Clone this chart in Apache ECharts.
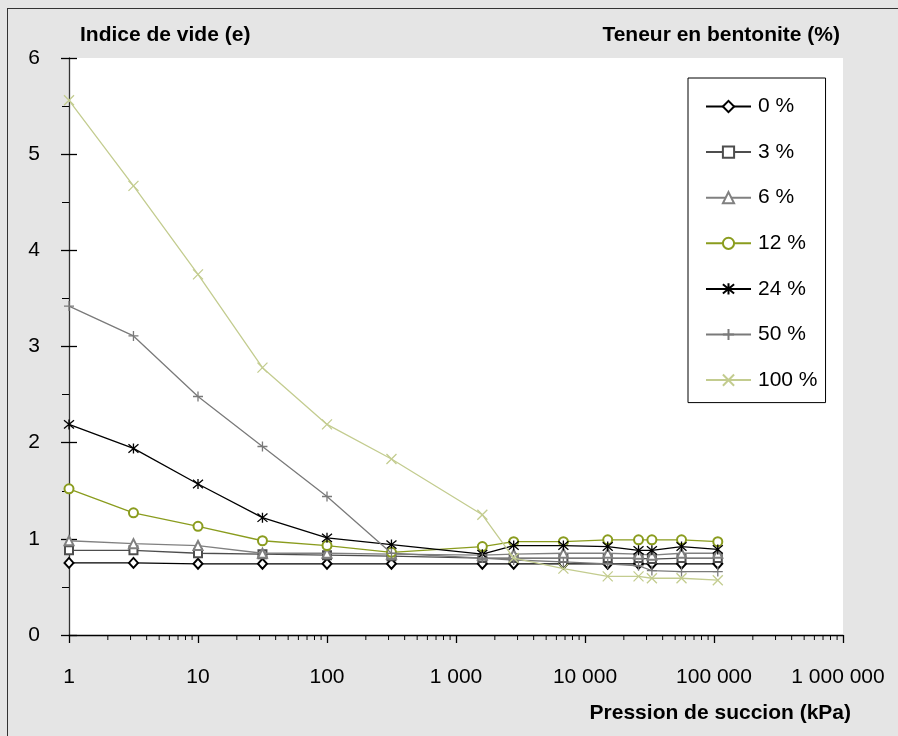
<!DOCTYPE html>
<html>
<head>
<meta charset="utf-8">
<script src="https://cdn.jsdelivr.net/npm/echarts@6.0.0/dist/echarts.min.js"></script>
<style>
  html, body { margin: 0; padding: 0; overflow: hidden; background: #e5e5e5; }
  #frame { position: absolute; left: 7px; top: 8px; width: 1000px; height: 1000px; border: 1px solid #333; }
  #main { position: absolute; left: 0; top: 0; width: 898px; height: 736px; }
</style>
</head>
<body>
<div id="frame"></div>
<div id="main"></div>
<script>
// pression de succion (kPa)
let pressure = [1, 3.16, 10, 31.6, 100, 316, 1600, 2800, 6800, 15000, 26000, 33000, 56000, 107000];
// indice de vide par teneur en bentonite
let e0 = [0.75, 0.75, 0.74, 0.74, 0.74, 0.74, 0.74, 0.74, 0.74, 0.74, 0.74, 0.74, 0.74, 0.74];
let e3 = [0.88, 0.88, 0.85, 0.84, 0.83, 0.82, 0.80, 0.80, 0.80, 0.80, 0.80, 0.79, 0.80, 0.80];
let e6 = [0.98, 0.95, 0.93, 0.85, 0.85, 0.84, 0.83, 0.84, 0.85, 0.85, 0.84, 0.83, 0.85, 0.85];
let e12 = [1.52, 1.27, 1.13, 0.98, 0.93, 0.86, 0.92, 0.97, 0.97, 0.99, 0.99, 0.99, 0.99, 0.97];
let e24 = [2.19, 1.94, 1.57, 1.22, 1.01, 0.94, 0.84, 0.93, 0.93, 0.92, 0.88, 0.88, 0.92, 0.89];
let e50 = [3.42, 3.11, 2.48, 1.96, 1.44, 0.85, 0.80, 0.78, 0.76, 0.74, 0.72, 0.67, 0.66, 0.66];
let e100 = [5.56, 4.67, 3.75, 2.78, 2.19, 1.83, 1.25, 0.80, 0.69, 0.61, 0.61, 0.59, 0.59, 0.57];

let seriesNames = ['0 %', '3 %', '6 %', '12 %', '24 %', '50 %', '100 %'];
let seriesValues = [e0, e3, e6, e12, e24, e50, e100];
let yTicks = [0, 1, 2, 3, 4, 5, 6];

// petites graduations du log (2..9 par décade)
let minorTicks = [];
[1, 10, 100, 1000, 10000, 100000].forEach(function (d) {
    for (let k = 2; k <= 9; k++) minorTicks.push(k * d);
});

let colors = ['#000000', '#4d4d4d', '#808080', '#8a9c1e', '#000000', '#7a7a7a', '#c3cc8f'];
let symbols = [
    'emptyDiamond',
    'emptyRect',
    'emptyTriangle',
    'emptyCircle',
    'path://M5 0 L5 10 M0.8 0.8 L9.2 9.2 M9.2 0.8 L0.8 9.2',
    'path://M5 0 L5 10 M0 5 L10 5',
    'path://M0 0 L10 10 M10 0 L0 10'
];
let sizes = [[9, 10], 8, 9, 9, 10, 10, 10];

let font = 'Liberation Sans, Arial, Helvetica, sans-serif';

function fmtThousands(v) {
    let s = String(Math.round(v)).replace(/\B(?=(\d{3})+(?!\d))/g, ' ');
    // le dernier libellé est un peu décalé vers la gauche
    return v >= 1000000 ? '{last|' + s + '}' : s;
}

let chart = echarts.init(document.getElementById('main'), null, {renderer: 'canvas'});

let series = seriesNames.map(function (name, i) {
    return {
        name: name,
        type: 'line',
        data: pressure.map(function (p, j) { return [p, seriesValues[i][j]]; }),
        symbol: symbols[i],
        symbolSize: sizes[i],
        showAllSymbol: true,
        lineStyle: {color: colors[i], width: 1.3},
        itemStyle: {color: colors[i], borderColor: colors[i], borderWidth: 1.3},
        emphasis: {disabled: true},
        z: 3 + i
    };
});

series.push({
    name: 'minor',
    type: 'custom',
    silent: true,
    clip: false,
    data: minorTicks,
    encode: {x: 0},
    renderItem: function (params, api) {
        let pt = api.coord([api.value(0), 0]);
        return {
            type: 'line',
            shape: {x1: pt[0], y1: pt[1], x2: pt[0], y2: pt[1] + 5},
            style: {stroke: '#000', lineWidth: 1}
        };
    },
    z: 1
});

let titleStyle = {fontFamily: font, fontSize: 21, fontWeight: 'bold', color: '#000'};

let option = {
    animation: false,
    backgroundColor: 'transparent',
    textStyle: {fontFamily: font},
    grid: {left: 69, top: 58, right: 55, bottom: 101, show: true, backgroundColor: '#ffffff', borderWidth: 0},
    title: [
        {text: 'Indice de vide (e)', left: 75, top: 20, textStyle: titleStyle},
        {text: 'Teneur en bentonite (%)', right: 53, top: 20, textStyle: titleStyle},
        {text: 'Pression de succion (kPa)', right: 42, top: 698, textStyle: titleStyle}
    ],
    legend: {
        orient: 'vertical',
        left: 688,
        top: 78,
        data: seriesNames,
        itemWidth: 45,
        itemHeight: 14,
        itemGap: 24.6,
        padding: [18, 8, 12, 17],
        backgroundColor: '#ffffff',
        borderColor: '#000000',
        borderWidth: 1,
        selectedMode: false,
        textStyle: {fontFamily: font, fontSize: 21, lineHeight: 21, color: '#000', padding: [0, 0, 0, 2]}
    },
    xAxis: {
        type: 'log',
        logBase: 10,
        min: 1,
        max: 1000000,
        splitNumber: 6,
        axisLine: {onZero: false, lineStyle: {color: '#000', width: 1.3}},
        axisTick: {show: true, length: 8, lineStyle: {color: '#000', width: 1.3}},
        splitLine: {show: false},
        axisLabel: {
            margin: 31.5, fontSize: 21, color: '#000', fontFamily: font, formatter: fmtThousands,
            rich: {last: {fontSize: 21, color: '#000', fontFamily: font, padding: [0, 10, 0, 0]}}
        }
    },
    yAxis: [
        {
            type: 'value',
            min: yTicks[0],
            max: yTicks[yTicks.length - 1],
            interval: 1,
            axisLine: {show: true, lineStyle: {color: '#333', width: 1.3}},
            axisTick: {show: true, length: 8, lineStyle: {color: '#000', width: 1.3}},
            minorTick: {show: true, splitNumber: 2, length: 7, lineStyle: {color: '#000', width: 1}},
            splitLine: {show: false},
            axisLabel: {margin: 29, fontSize: 21, color: '#000', fontFamily: font}
        },
        {
            type: 'value',
            position: 'left',
            min: yTicks[0],
            max: yTicks[yTicks.length - 1],
            interval: 1,
            axisLine: {show: false},
            axisTick: {show: true, inside: true, length: 8, lineStyle: {color: '#000', width: 1.3}},
            splitLine: {show: false},
            axisLabel: {show: false}
        }
    ],
    series: series
};

chart.setOption(option, true);
</script>
</body>
</html>
